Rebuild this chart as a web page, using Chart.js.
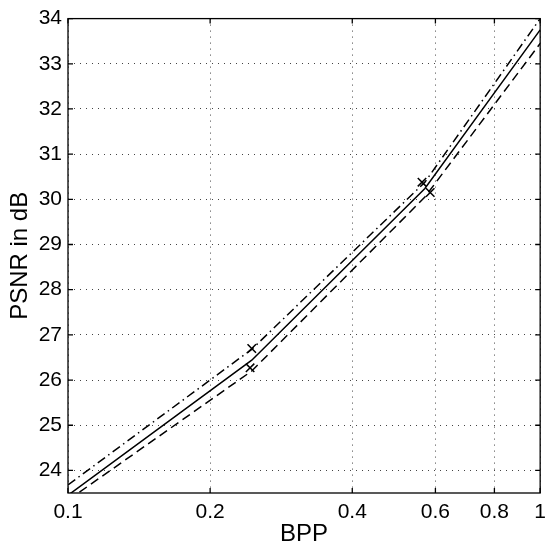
<!DOCTYPE html>
<html>
<head>
<meta charset="utf-8">
<script src="https://cdn.jsdelivr.net/npm/chart.js@4"></script>
<style>
  body { margin: 0; background: #fff; }
  #wrap { width: 553px; height: 549px; }
</style>
</head>
<body>
<div id="wrap"><canvas id="psnr"></canvas></div>
<script>
// rate points (bits per pixel) where the curves bend
const bpp = [0.1, 0.245, 0.57, 1.0];
const psnrSolid = [23.45, 26.44, 30.24, 33.75];
const psnrDashed = [23.34, 26.20, 30.05, 33.45];
const psnrDashDot = [23.68, 26.68, 30.38, 34.0];

// x markers
const markBpp = [0.245, 0.243, 0.562, 0.585];
const markPsnr = [26.70, 26.27, 30.38, 30.15];

const xTicks = [0.1, 0.2, 0.4, 0.6, 0.8, 1];
const yTicks = [24, 25, 26, 27, 28, 29, 30, 31, 32, 33, 34];

const pts = (xs, ys) => xs.map((x, i) => ({ x: x, y: ys[i] }));

const lineStyle = {
  borderColor: "#000",
  borderWidth: 1.5,
  pointRadius: 0,
  fill: false,
  tension: 0,
};

// box + inward tick marks, matlab style
const boxPlugin = {
  id: "box",
  afterDraw(chart) {
    const { ctx, chartArea: a } = chart;
    const xs = chart.scales.x, ys = chart.scales.y;
    ctx.save();
    ctx.strokeStyle = "#000";
    ctx.lineWidth = 1.3;
    ctx.setLineDash([]);
    ctx.strokeRect(a.left, a.top, a.right - a.left, a.bottom - a.top);
    ctx.beginPath();
    xTicks.forEach((v) => {
      const p = xs.getPixelForValue(v);
      ctx.moveTo(p, a.bottom); ctx.lineTo(p, a.bottom - 5);
      ctx.moveTo(p, a.top); ctx.lineTo(p, a.top + 5);
    });
    yTicks.forEach((v) => {
      const p = ys.getPixelForValue(v);
      ctx.moveTo(a.left, p); ctx.lineTo(a.left + 5, p);
      ctx.moveTo(a.right, p); ctx.lineTo(a.right - 5, p);
    });
    ctx.stroke();
    ctx.restore();
  },
};

const font = { family: "'Liberation Sans', Arial, sans-serif", size: 21 };
const titleFont = { family: "'Liberation Sans', Arial, sans-serif", size: 24 };

const cfg = {
  type: "line",
  data: {
    datasets: [
      Object.assign({ label: "solid", data: pts(bpp, psnrSolid) }, lineStyle),
      Object.assign({ label: "dashed", data: pts(bpp, psnrDashed), borderDash: [9, 5] }, lineStyle),
      Object.assign({ label: "dash-dot", data: pts(bpp, psnrDashDot), borderDash: [9, 4, 1.5, 4] }, lineStyle),
      {
        type: "scatter",
        label: "marks",
        data: pts(markBpp, markPsnr),
        pointStyle: "crossRot",
        pointRadius: 6,
        borderColor: "#000",
        borderWidth: 1.5,
        showLine: false,
      },
    ],
  },
  options: {
    responsive: true,
    maintainAspectRatio: false,
    animation: false,
    layout: { padding: { top: 14, right: 5, left: 0, bottom: 0 } },
    plugins: { legend: { display: false }, tooltip: { enabled: false } },
    scales: {
      x: {
        type: "logarithmic",
        min: 0.1,
        max: 1,
        afterBuildTicks: (s) => { s.ticks = xTicks.map((v) => ({ value: v })); },
        afterFit: (s) => { s.height = 56; },
        ticks: {
          color: "#000",
          font: font,
          padding: 7,
          maxRotation: 0,
          callback: (v) => String(v),
        },
        grid: { color: "#444", lineWidth: 1, drawTicks: false },
        border: { display: false, dash: [1, 5] },
        title: { display: true, text: "BPP", color: "#000", font: titleFont, padding: { top: 0, bottom: 0 } },
      },
      y: {
        min: 23.5,
        max: 34,
        afterBuildTicks: (s) => { s.ticks = yTicks.map((v) => ({ value: v })); },
        afterFit: (s) => { s.width = 68; },
        ticks: { color: "#000", font: font, padding: 6 },
        grid: { color: "#444", lineWidth: 1, drawTicks: false },
        border: { display: false, dash: [1, 5] },
        title: { display: true, text: "PSNR in dB", color: "#000", font: titleFont, padding: { top: 6, bottom: 0 } },
      },
    },
  },
  plugins: [boxPlugin],
};

window.psnrChart = new Chart(document.getElementById("psnr"), cfg);
</script>
</body>
</html>
